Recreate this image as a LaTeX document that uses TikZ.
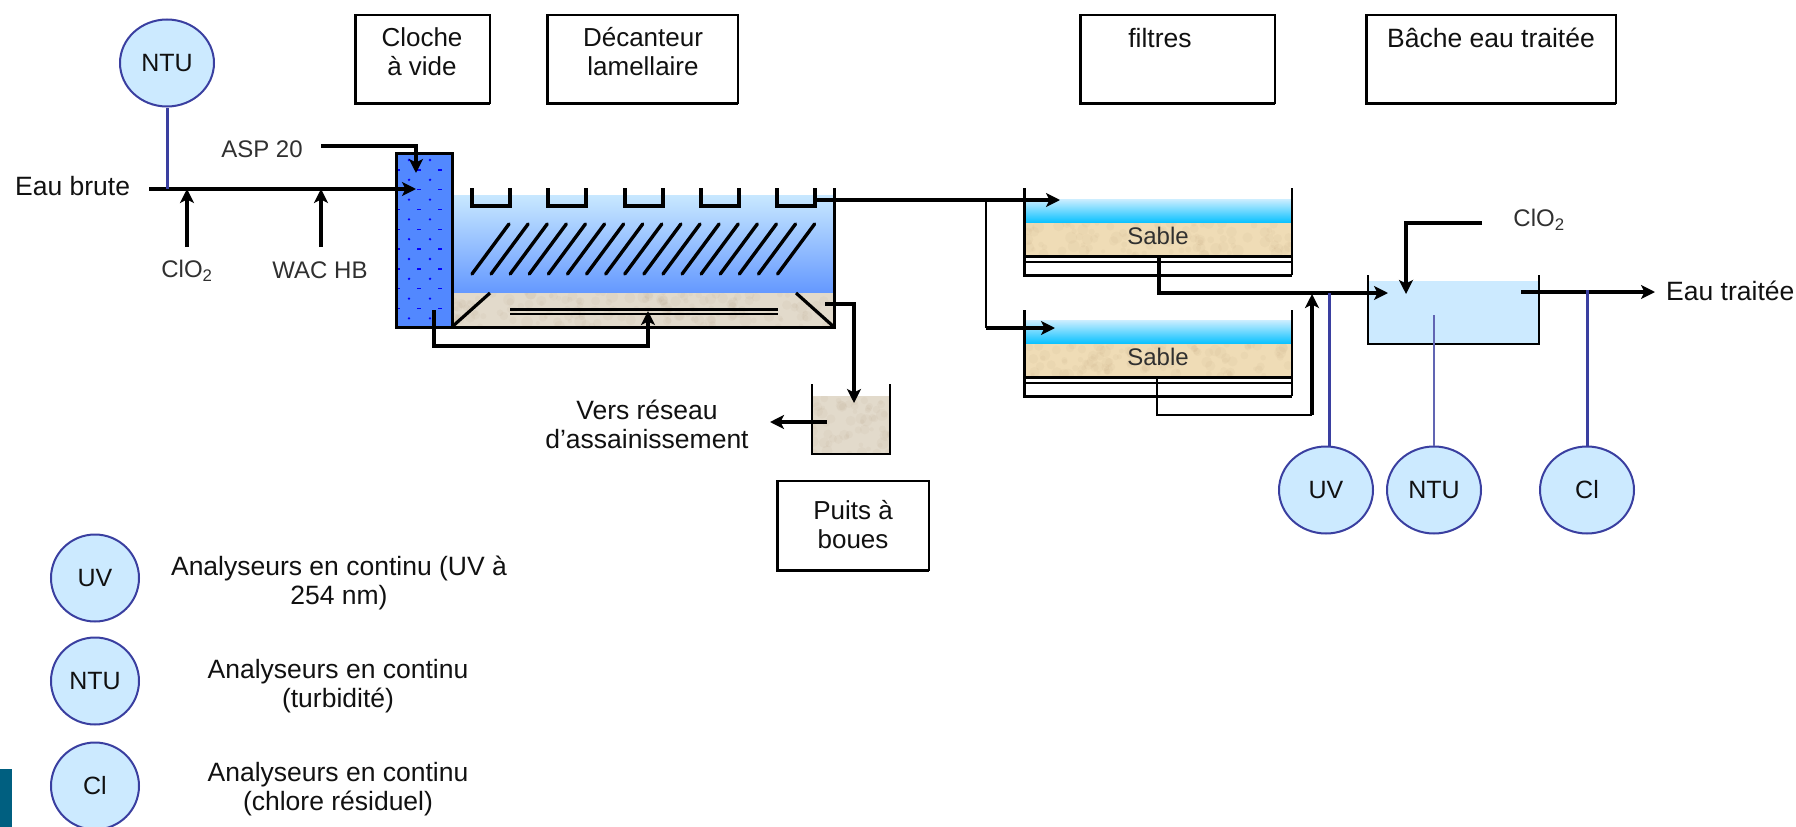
\documentclass[tikz,border=0pt]{standalone}
\usepackage{fontspec}
\setmainfont{Liberation Sans}
\usetikzlibrary{arrows.meta,shapes.geometric}
\definecolor{ink}{HTML}{111111}
\definecolor{grayink}{HTML}{303030}
\definecolor{probe}{HTML}{3A3FA0}
\definecolor{probefill}{HTML}{CCEAFF}
\definecolor{cloche}{HTML}{5288FF}
\definecolor{sandc}{HTML}{EFDCB6}
\definecolor{sludge}{HTML}{E2DACB}
\definecolor{teal}{HTML}{005F80}
\newcommand{\bigtxt}{\fontsize{26}{29}\selectfont}
\newcommand{\widetxt}{\fontsize{26.5}{29}\selectfont}
\newcommand{\smalltxt}{\fontsize{24}{29}\selectfont}
\newcommand{\mottle}[5]{%
  \begin{scope}
    \clip (#1,#2) rectangle (#3,#4);
    \pgfmathsetmacro{\mw}{#3-#1}
    \pgfmathsetmacro{\mh}{#4-#2}
    \foreach \k in {1,...,#5}{
      \pgfmathsetmacro{\mx}{#1+rnd*\mw}
      \pgfmathsetmacro{\my}{#2+rnd*\mh}
      \pgfmathsetmacro{\mr}{2+rnd*4}
      \fill[black!35!brown,opacity=.035] (\mx,\my) circle (\mr);
    }
  \end{scope}}
\tikzset{
  pipe/.style={line width=3.2pt,draw=black,line join=miter},
  flow/.style={pipe,-{Stealth[length=14pt,width=14pt,inset=3.5pt]}},
  thinline/.style={line width=2.2pt,draw=black,line join=miter},
  wall/.style={line width=3pt,draw=black,line join=miter},
  stem/.style={line width=3pt,draw=probe},
  analyser/.style={ellipse,draw=probe,line width=2pt,fill=probefill,minimum width=94pt,minimum height=87pt,inner sep=0pt,text=ink,font=\fontsize{25}{29}\selectfont},
  legendan/.style={analyser,minimum width=88pt},
  titlebox/.style={draw=black,line width=2pt,fill=white},
  boxshade/.style={line width=3pt,draw=black,line join=miter},
  lab/.style={text=ink,font=\bigtxt,align=center,inner sep=0pt},
  wlab/.style={lab,font=\widetxt},
  glab/.style={text=grayink,font=\smalltxt,align=center,inner sep=0pt},
}
\begin{document}
\begin{tikzpicture}[x=1pt,y=-1pt]
\useasboundingbox (0,0) rectangle (1796,827);
\pgfmathsetseed{11}
% teal corner
\fill[teal] (0,769) rectangle (12,827);
% title boxes
\foreach \xa/\ya/\xb/\yb in {355/15/490/103, 547/15/738/103, 1080/15/1275/103, 1366/15/1616/103, 777/481/929/570}{
  \draw[titlebox] (\xa,\ya) rectangle (\xb,\yb);
  \draw[boxshade] (\xa,\ya) -- (\xa,\yb) -- (\xb,\yb);
}
\node[lab] (tcloche) at (422,52) {Cloche\\à vide};
\node[lab] (tdec) at (643,52) {Décanteur\\lamellaire};
\node[wlab] (tfil) at (1160,38) {filtres};
\node[wlab] (tbac) at (1491,38) {Bâche eau traitée};
\node[lab] (tpuits) at (853,525) {Puits à\\boues};
% clarifier
\shade[top color={rgb,255:red,200;green,232;blue,255},bottom color={rgb,255:red,100;green,152;blue,255}] (452,195) rectangle (834,293);
\fill[sludge] (452,293) rectangle (834,327);
\mottle{452}{293}{834}{327}{160}
% cloche
\fill[cloche] (396,153) rectangle (452,327);
\foreach \i in {0,...,16}{
  \pgfmathsetmacro{\yy}{160+9.9*\i}
  \ifodd\i
    \foreach \xx in {398,419,440}{\fill[blue] (\xx-2,\yy-.7) rectangle (\xx+2,\yy+.7);}
  \else
    \foreach \xx in {409,430}{\fill[blue] (\xx,\yy) circle (1.3);}
  \fi
}
\draw[wall] (396,153) rectangle (452,327);
\draw[wall] (834,188) -- (834,327) -- (452,327);
\foreach \xa in {472,548,625,701,777}{
  \draw[pipe] (\xa,188) -- (\xa,206) -- (\xa+38,206) -- (\xa+38,188);
}
\foreach \i in {0,...,16}{
  \draw[line width=3.4pt,line cap=round] (472+19.1*\i,274) -- (509+19.1*\i,224);
}
\draw[pipe] (453,326) -- (490,293);
\draw[pipe] (796,293) -- (834,327);
\draw[line width=3pt] (510,309) -- (778,309);
\draw[line width=2pt] (510,314) -- (778,314);
% filters
\foreach \ya/\yb/\yc/\yd/\ye/\yf/\yg in {188/199/223/255/256/262/275, 310/320/344/376/377/383/396}{
  \shade[top color={rgb,255:red,205;green,238;blue,255},bottom color={rgb,255:red,5;green,192;blue,255}] (1024,\yb) rectangle (1292,\yc);
  \fill[sandc] (1024,\yc) rectangle (1292,\yd);
  \mottle{1024}{\yc}{1292}{\yd}{110}
  \draw[line width=3pt] (1024,\ya) -- (1024,\yg) -- (1292,\yg);
  \draw[line width=2.6pt] (1292,\ya) -- (1292,\yg);
  \draw[line width=3pt] (1024,\ye) -- (1292,\ye);
  \draw[line width=2pt] (1024,\yf) -- (1292,\yf);
}
\node[glab] (s1) at (1158,236) {Sable};
\node[glab] (s2) at (1158,357) {Sable};
% treated water tank
\fill[probefill] (1368,281) rectangle (1539,344);
\draw[line width=2.4pt] (1368,275) -- (1368,344) -- (1539,344) -- (1539,275);
% sludge pit
\fill[sludge] (812,396) rectangle (890,454);
\mottle{812}{396}{890}{454}{60}
\draw[line width=2.4pt] (812,384) -- (812,454) -- (890,454) -- (890,384);
% analysers
\node[analyser] (ntu0) at (167,63) {NTU};
\node[analyser] (uv1) at (1326,490) {UV};
\node[analyser] (ntu1) at (1434,490) {NTU};
\node[analyser] (cl1) at (1587,490) {Cl};
\node[legendan] (uv2) at (95,578) {UV};
\node[legendan] (ntu2) at (95,681) {NTU};
\node[legendan] (cl2) at (95,786) {Cl};
% labels
\node[wlab,anchor=west] (brute) at (15,186) {Eau brute};
\node[wlab,anchor=west] (traitee) at (1666,291) {Eau traitée};
\node[glab] (asp) at (262,149) {ASP 20};
\node[glab] (clo1) at (187,271) {ClO\textsubscript{2}};
\node[glab] (wac) at (320,270) {WAC HB};
\node[glab] (clo2) at (1539,220) {ClO\textsubscript{2}};
\node[wlab] (vers) at (647,424) {Vers réseau\\d’assainissement};
\node[wlab] (l1) at (339,583) {Analyseurs en continu (UV à\\254 nm)};
\node[wlab] (l2) at (338,686) {Analyseurs en continu\\(turbidité)};
\node[wlab] (l3) at (338,789) {Analyseurs en continu\\(chlore résiduel)};
% connector ends
\coordinate (inEnd) at (416,189);
\coordinate (inStart) at (149,189);
\coordinate (tap0) at (167,189);
\coordinate (aspS) at (321,146);
\coordinate (aspE) at (416,173);
\coordinate (cloA) at (187,247);
\coordinate (cloB) at (187,189);
\coordinate (wacA) at (321,247);
\coordinate (wacB) at (321,189);
\coordinate (retA) at (434,310);
\coordinate (retB) at (648,311);
\coordinate (exitA) at (813,200);
\coordinate (f1in) at (1060,200);
\coordinate (brA) at (986,200);
\coordinate (f2cnr) at (986,328);
\coordinate (f2in) at (1055,328);
\coordinate (f1o) at (1159,257);
\coordinate (tankin) at (1388,293);
\coordinate (f2o) at (1157,378);
\coordinate (jcnr) at (1312,415);
\coordinate (joinB) at (1312,294);
\coordinate (tapUV) at (1329,293);
\coordinate (ntuT) at (1434,315);
\coordinate (clS) at (1587,290);
\coordinate (dosA) at (1482,223);
\coordinate (dosB) at (1406,294);
\coordinate (outA) at (1521,292);
\coordinate (outB) at (1655,292);
\coordinate (slA) at (825,304);
\coordinate (slB) at (854,403);
\coordinate (pitA) at (827,422);
\coordinate (pitB) at (770,422);
% connectors
\draw[flow] (inStart) -- (inEnd);
\draw[flow] (aspS) -| (aspE);
\draw[flow] (cloA) -- (cloB);
\draw[flow] (wacA) -- (wacB);
\draw[flow] (retA) |- (540,346) -| (retB);
\draw[flow] (exitA) -- (f1in);
\draw[thinline] (brA) -- (f2cnr);
\draw[flow] (f2cnr) -- (f2in);
\draw[flow] (f1o) |- (tankin);
\draw[thinline] (f2o) |- (jcnr);
\draw[flow] (jcnr) -- (joinB);
\draw[flow] (dosA) -| (dosB);
\draw[flow] (outA) -- (outB);
\draw[flow] (slA) -| (slB);
\draw[flow] (pitA) -- (pitB);
% stems
\draw[stem] (ntu0) -- (tap0);
\draw[stem] (uv1.north -| tapUV) -- (tapUV);
\draw[stem,line width=2pt,draw=probe!80] (ntu1) -- (ntuT);
\draw[stem] (cl1) -- (clS);
\end{tikzpicture}
\end{document}
